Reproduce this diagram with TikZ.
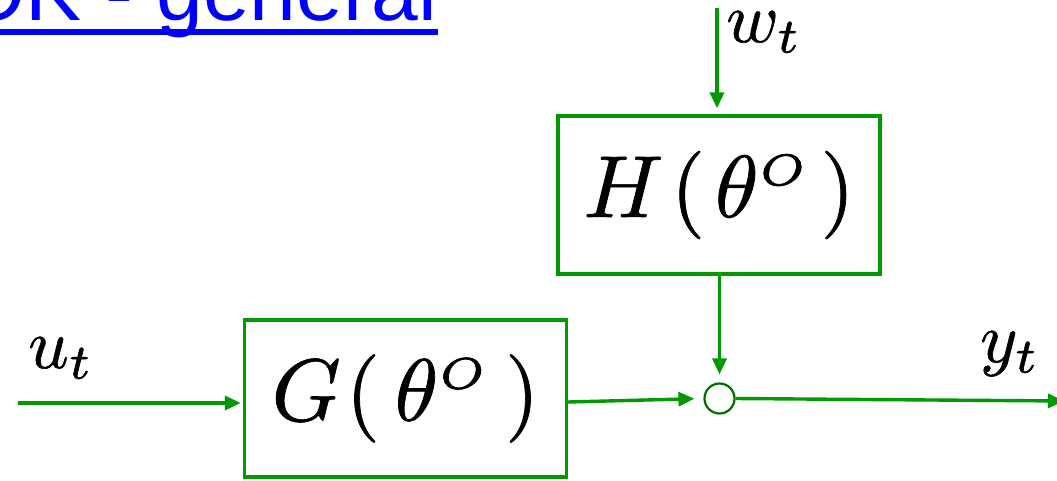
\documentclass[tikz,border=0pt]{standalone}
\usepackage{graphicx}
\usepackage{fontspec}
\newfontfamily\titlefont{Liberation Sans}
\usetikzlibrary{arrows.meta}
\definecolor{lgreen}{RGB}{0,153,0}
\definecolor{dgreen}{RGB}{0,110,0}
\definecolor{tblue}{RGB}{0,0,255}
\newcommand{\heavytext}[1]{\special{pdf:literal direct 2 Tr 0.08 w}#1\special{pdf:literal direct 0 Tr}}
\newcommand{\bigmath}[1]{\scalebox{8.8}{\heavytext{$#1$}}}
\newcommand{\lblmath}[1]{\scalebox{7.1}{\heavytext{$#1$}}}
\tikzset{
  blockbox/.style={draw=lgreen, line width=3.4pt, inner sep=0pt, minimum width=322pt, minimum height=157pt},
  sig/.style={draw=lgreen, line width=3.4pt, -{Triangle[length=16pt,width=14pt]}},
  sumnode/.style={circle, draw=dgreen, line width=2.2pt, minimum size=30pt, inner sep=0pt, fill=white},
  lbl/.style={inner sep=0pt},
}
\begin{document}
\begin{tikzpicture}[x=1pt,y=-1pt]
\useasboundingbox (0,0) rectangle (1057,480);
\begin{scope}
\clip (0,0) rectangle (1057,480);
\node[inner sep=0pt, anchor=base east, text=tblue, font=\titlefont\fontsize{84}{84}\selectfont] (title) at (437,20) {OK - general};
\fill[tblue] (-10,29) rectangle (438,35);
\node[blockbox] (G) at (405.5,398.5) {\raisebox{-3pt}{\bigmath{G\mkern1mu(\mkern3mu\theta^{\scriptscriptstyle O}\mkern3mu)}}};
\node[blockbox, minimum height=158pt] (H) at (719,195) {\bigmath{H\mkern1.5mu(\mkern2mu\theta^{\scriptscriptstyle O}\mkern2mu)}};
\node[sumnode] (S) at (719.5,398.5) {};
\coordinate (uin) at (18,403);
\coordinate (win) at (717,8);
\coordinate (yout) at (1064,401);
\draw[sig, shorten >=2pt] (uin) -- (uin -| G.west);
\draw[sig, shorten >=9pt] (G.east |- 0,402) -- (S.west);
\draw[sig, shorten >=6pt] (win) -- (H.north -| win);
\draw[sig, shorten >=8pt] (H.south -| S) -- (S.north);
\draw[sig] (S.east) -- (yout);
\node[lbl, anchor=base west] (u) at (28,368) {\lblmath{u_t}};
\node[lbl, anchor=base west] (w) at (726,42) {\lblmath{w_t}};
\node[lbl, anchor=base west] (y) at (980,362) {\lblmath{y_t}};
\end{scope}
\end{tikzpicture}
\end{document}
